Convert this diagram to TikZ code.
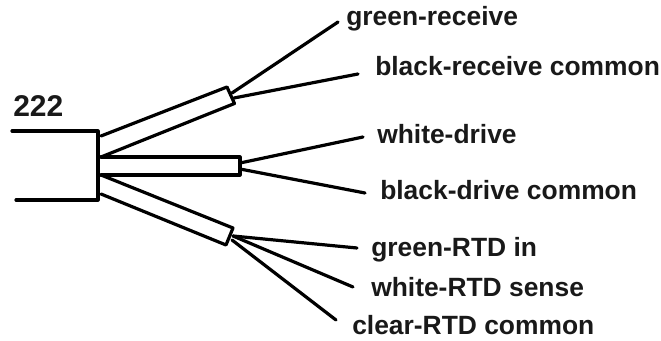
\documentclass[tikz,border=0pt]{standalone}
\usepackage{fontspec}
\setmainfont{Liberation Sans}
\tikzset{
  wire/.style={line width=2.4pt,black,line cap=round,line join=round},
  lab/.style={font=\bfseries\fontsize{19.8pt}{22pt}\selectfont,inner sep=0pt,anchor=base west,text=black!90},
}
\begin{document}
\begin{tikzpicture}[x=1pt,y=-1pt,scale=0.75]
\useasboundingbox (0,0) rectangle (661,341);
\fill[white] (0,0) rectangle (661,341);
\node[lab,font=\bfseries\fontsize{22.5pt}{24pt}\selectfont] (n222) at (13,116.5) {222};
\node[lab] (l1) at (346,26) {green-receive};
\node[lab] (l2) at (375,76) {black-receive common};
\node[lab] (l3) at (377,144) {white-drive};
\node[lab] (l4) at (380,200) {black-drive common};
\node[lab] (l5) at (371,257) {green-RTD in};
\node[lab] (l6) at (371,297) {white-RTD sense};
\node[lab] (l7) at (352,335) {clear-RTD common};
\coordinate (t1) at (338,22);
\coordinate (t2) at (358,74);
\coordinate (t3) at (363,137);
\coordinate (t4) at (365,193);
\coordinate (t5) at (357,248);
\coordinate (t6) at (353,287);
\coordinate (t7) at (336,320);
\coordinate (j1a) at (232,93);
\coordinate (j1b) at (234,98);
\coordinate (j2a) at (240,163);
\coordinate (j2b) at (240,169);
\coordinate (j3a) at (233,236);
\coordinate (j3b) at (232,240);
\draw[wire] (12,131) -- (98,131) -- (98,200) -- (16,200);
\draw[wire] (101,136) -- (227,87) -- (234.5,103.5) -- (101,157);
\draw[wire] (101,157) -- (240,157) -- (240,175) -- (101,175);
\draw[wire] (101,175) -- (233,228) -- (226,245) -- (101,194);
\draw[wire] (j1a) -- (t1);
\draw[wire] (j1b) -- (t2);
\draw[wire] (j2a) -- (t3);
\draw[wire] (j2b) -- (t4);
\draw[wire] (j3a) -- (t5);
\draw[wire] (j3a) -- (t6);
\draw[wire] (j3b) -- (t7);
\end{tikzpicture}
\end{document}
